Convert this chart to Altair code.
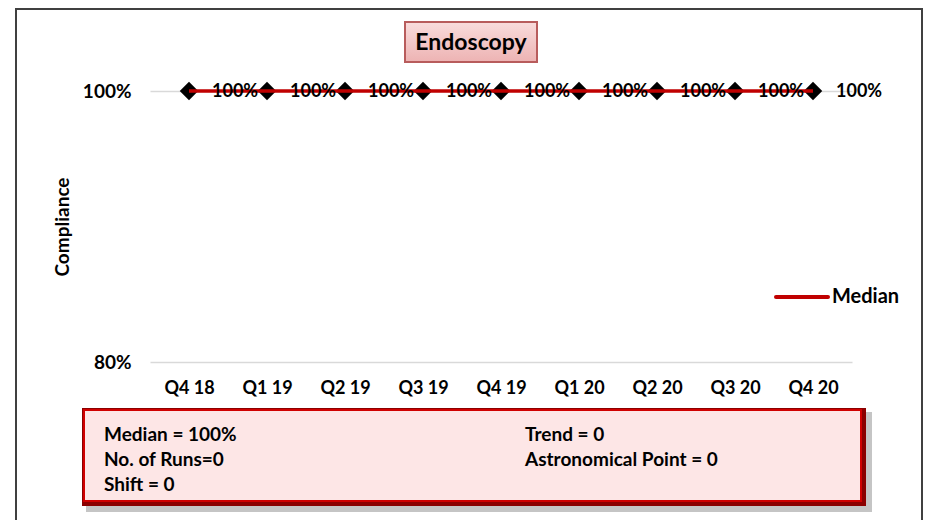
import altair as alt
import pandas as pd

# ---- data ----
quarters = ["Q4 18", "Q1 19", "Q2 19", "Q3 19", "Q4 19", "Q1 20", "Q2 20", "Q3 20", "Q4 20"]
compliance = [1.0, 1.0, 1.0, 1.0, 1.0, 1.0, 1.0, 1.0, 1.0]
median = [1.0, 1.0, 1.0, 1.0, 1.0, 1.0, 1.0, 1.0, 1.0]
y_ticks = [0.8, 1.0]
chart_title = "Endoscopy"
legend_label = "Median"
stats_left = ["Median = 100%", "No. of Runs=0", "Shift = 0"]
stats_right = ["Trend = 0", "Astronomical Point = 0"]

df = pd.DataFrame({"quarter": quarters, "compliance": compliance, "median": median})
one = pd.DataFrame({"a": [0]})

FONT = "Lato"
W, H = 702, 271

x_enc = alt.X("quarter:N", sort=quarters, title=None,
              axis=alt.Axis(labelAngle=0, ticks=False, domain=False, grid=False,
                            labelPadding=17, labelFontSize=18, labelFontWeight="bold",
                            labelColor="black", labelFont=FONT))
y_scale = alt.Scale(domain=[0.8, 1.0])

base = alt.Chart(df)

axes_layer = base.mark_point(opacity=0).encode(
    x=x_enc,
    y=alt.Y("compliance:Q", scale=y_scale, title="Compliance",
            axis=alt.Axis(values=y_ticks, format=".0%", ticks=False, domain=False,
                          grid=True, gridColor="#D9D9D9", gridWidth=1.5,
                          labelPadding=19, labelFontSize=19, labelFontWeight="bold",
                          labelColor="black", labelFont=FONT,
                          titleFontSize=19, titleFontWeight="bold", titleColor="black",
                          titleFont=FONT, titlePadding=10)),
)

points = base.mark_point(shape="diamond", filled=True, color="black", size=340, opacity=1).encode(
    x=alt.X("quarter:N", sort=quarters),
    y=alt.Y("compliance:Q", scale=y_scale),
)

median_line = base.mark_line(color="#C00000", strokeWidth=3.5).encode(
    x=alt.X("quarter:N", sort=quarters),
    y=alt.Y("median:Q", scale=y_scale),
)

labels = base.mark_text(align="left", baseline="middle", dx=23, dy=1, font=FONT,
                        fontSize=18, fontWeight="bold", color="black").encode(
    x=alt.X("quarter:N", sort=quarters),
    y=alt.Y("compliance:Q", scale=y_scale),
    text=alt.Text("compliance:Q", format=".0%"),
)

# legend
leg_line = alt.Chart(one).mark_rule(color="#C00000", strokeWidth=4, strokeCap="round").encode(
    x=alt.value(626), x2=alt.value(678), y=alt.value(206))
leg_text = alt.Chart(one).mark_text(align="left", baseline="middle", font=FONT, fontSize=20,
                                    fontWeight="bold", color="black").encode(
    x=alt.value(682), y=alt.value(206), text=alt.value(legend_label))

# title box
title_box = alt.Chart(one).mark_rect(
    fill=alt.Gradient(gradient="linear", x1=0, x2=0, y1=0, y2=1,
                      stops=[alt.GradientStop(color="#F9DCDC", offset=0),
                             alt.GradientStop(color="#EDB3B3", offset=1)]),
    stroke="#B85C5C", strokeWidth=2).encode(
    x=alt.value(255), x2=alt.value(387), y=alt.value(-69), y2=alt.value(-29))
title_text = alt.Chart(one).mark_text(align="center", baseline="middle", font=FONT, fontSize=23,
                                      fontWeight="bold", color="black").encode(
    x=alt.value(321), y=alt.value(-48), text=alt.value(chart_title))

# stats box
shadow = alt.Chart(one).mark_rect(fill="#7F7F7F", opacity=0.45).encode(
    x=alt.value(-64), x2=alt.value(722), y=alt.value(321), y2=alt.value(421))
box_outer = alt.Chart(one).mark_rect(fill="#8B0000").encode(
    x=alt.value(-68), x2=alt.value(716), y=alt.value(317), y2=alt.value(415))
box_inner = alt.Chart(one).mark_rect(fill="#FDE6E6", stroke="#D00000", strokeWidth=2).encode(
    x=alt.value(-66), x2=alt.value(711), y=alt.value(319), y2=alt.value(410))

stat_layers = []
for i, s in enumerate(stats_left):
    stat_layers.append(alt.Chart(one).mark_text(align="left", baseline="middle", font=FONT,
                                                fontSize=19, fontWeight="bold", color="black").encode(
        x=alt.value(-46), y=alt.value(344 + 25 * i), text=alt.value(s)))
for i, s in enumerate(stats_right):
    stat_layers.append(alt.Chart(one).mark_text(align="left", baseline="middle", font=FONT,
                                                fontSize=19, fontWeight="bold", color="black").encode(
        x=alt.value(375), y=alt.value(344 + 25 * i), text=alt.value(s)))

# outer border
border = alt.Chart(one).mark_rect(fill=None, stroke="#404040", strokeWidth=2).encode(
    x=alt.value(-134), x2=alt.value(772), y=alt.value(-82), y2=alt.value(450))

chart = alt.layer(
    border, axes_layer, points, median_line, labels, leg_line, leg_text,
    title_box, title_text, shadow, box_outer, box_inner, *stat_layers
).properties(
    width=W, height=H,
    autosize=alt.AutoSizeParams(type="none"),
    padding={"left": 142, "top": 83, "right": 72, "bottom": 158},
    background="white",
).configure_view(stroke=None)

chart.save("out.html", embed_options={"renderer": "svg", "actions": False})
